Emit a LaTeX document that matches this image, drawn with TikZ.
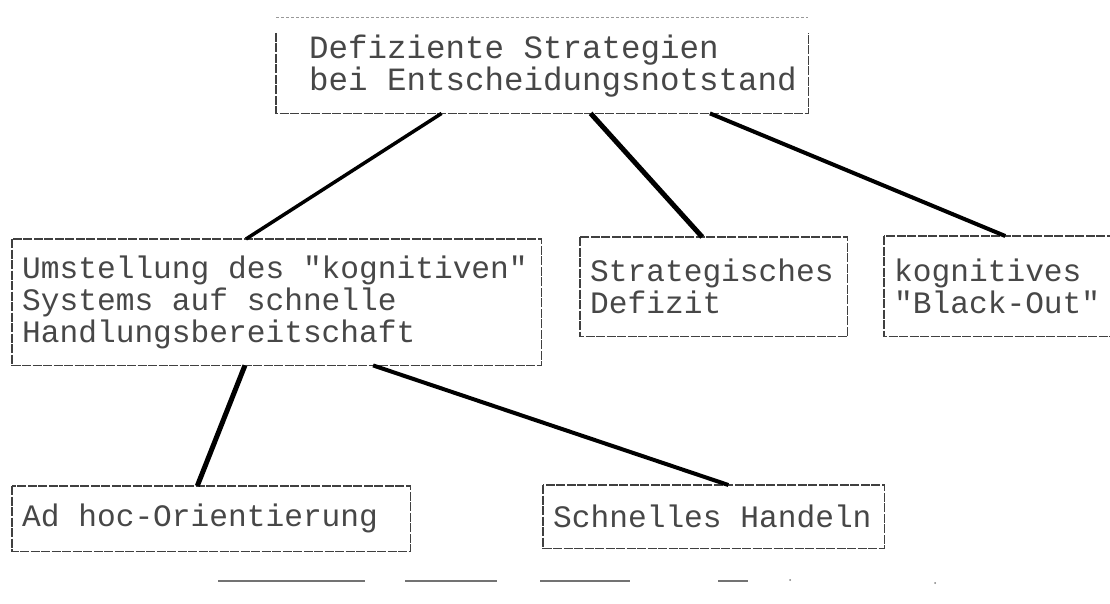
\documentclass[tikz,border=0pt]{standalone}
\usepackage{fontspec}
\newfontfamily\dotfont{Liberation Mono}
\usetikzlibrary{calc}
% fixed-pitch printer type: full-width, rigid word spaces, no hyphenation
\newcommand\printerfont[1]{\dotfont\fontsize{#1}{32}\selectfont
  \spaceskip=\dimexpr #1pt*6/10\relax\xspaceskip=\spaceskip
  \hyphenpenalty=10000\exhyphenpenalty=10000\hbadness=10000\hfuzz=100pt}
\begin{document}
\begin{tikzpicture}[x=1pt,y=-1pt,
  box/.style={draw=none,rectangle,anchor=north west,inner xsep=10pt,inner ysep=0pt,
    align=flush left,font=\printerfont{31.2},text=black!72},
  frame/.style={draw=black!75,line width=1.2pt,dash pattern=on 9pt off 1.5pt},
  faint/.style={draw=black!40,line width=1pt,dash pattern=on 3pt off 2pt},
  link/.style={draw=black,line width=4pt},
  scrap/.style={draw=black!55,line width=1.3pt}]
\useasboundingbox (0,0) rectangle (1110,604);
\clip (0,0) rectangle (1110,604);
\fill[white] (0,0) rectangle (1110,604);

% boxes
\node[box,font=\printerfont{32.5},inner xsep=9pt,text width=514pt,minimum height=95pt] (top) at (276,18)
  {\hspace*{24pt}Defiziente Strategien\\\hspace*{24pt}bei Entscheidungsnotstand};
\node[box,text width=509pt,minimum height=126pt] (umst) at (12,239)
  {Umstellung des "kognitiven"\\Systems auf schnelle\\Handlungsbereitschaft};
\node[box,text width=247pt,minimum height=99pt] (strat) at (580,237)
  {Strategisches\\Defizit};
\node[box,text width=226pt,minimum height=100pt] (black) at (884,236)
  {kognitives\\"Black-Out"};
\node[box,text width=378pt,minimum height=65pt] (adhoc) at (12,486)
  {Ad hoc-Orientierung};
\node[box,text width=321pt,minimum height=63pt] (handeln) at (543,485)
  {Schnelles Handeln};

% frames
\draw[faint] (top.north west) -- (top.north east);
\draw[frame] ($(top.north west)+(0,15)$) -- (top.south west) -- (top.south east) -- ($(top.north east)+(0,15)$);
\foreach \n in {umst,strat,black,adhoc,handeln}
  \draw[frame] (\n.north west) rectangle (\n.south east);

% connectors
\draw[link,line width=3.5pt] ($(top.south west)!0.311!(top.south east)$) -- ($(umst.north west)!0.442!(umst.north east)$);
\draw[link,line width=5pt] ($(top.south west)!0.591!(top.south east)$) -- ($(strat.north west)!0.457!(strat.north east)$);
\draw[link] ($(top.south west)!0.815!(top.south east)$) -- ($(black.north west)!0.492!(black.north east)$);
\draw[link,line width=5pt] ($(umst.south west)!0.440!(umst.south east)$) -- ($(adhoc.north west)!0.465!(adhoc.north east)$);
\draw[link] ($(umst.south west)!0.682!(umst.south east)$) -- ($(handeln.north west)!0.543!(handeln.north east)$);

% broken rule below the chart
\draw[scrap] (218,581) -- (365,581);
\draw[scrap] (405,581) -- (497,581);
\draw[scrap] (540,581) -- (630,581);
\draw[scrap] (718,581) -- (748,581);
\fill[black!50] (790,580) circle (1pt);
\fill[black!50] (935,583) circle (1pt);
\end{tikzpicture}
\end{document}
